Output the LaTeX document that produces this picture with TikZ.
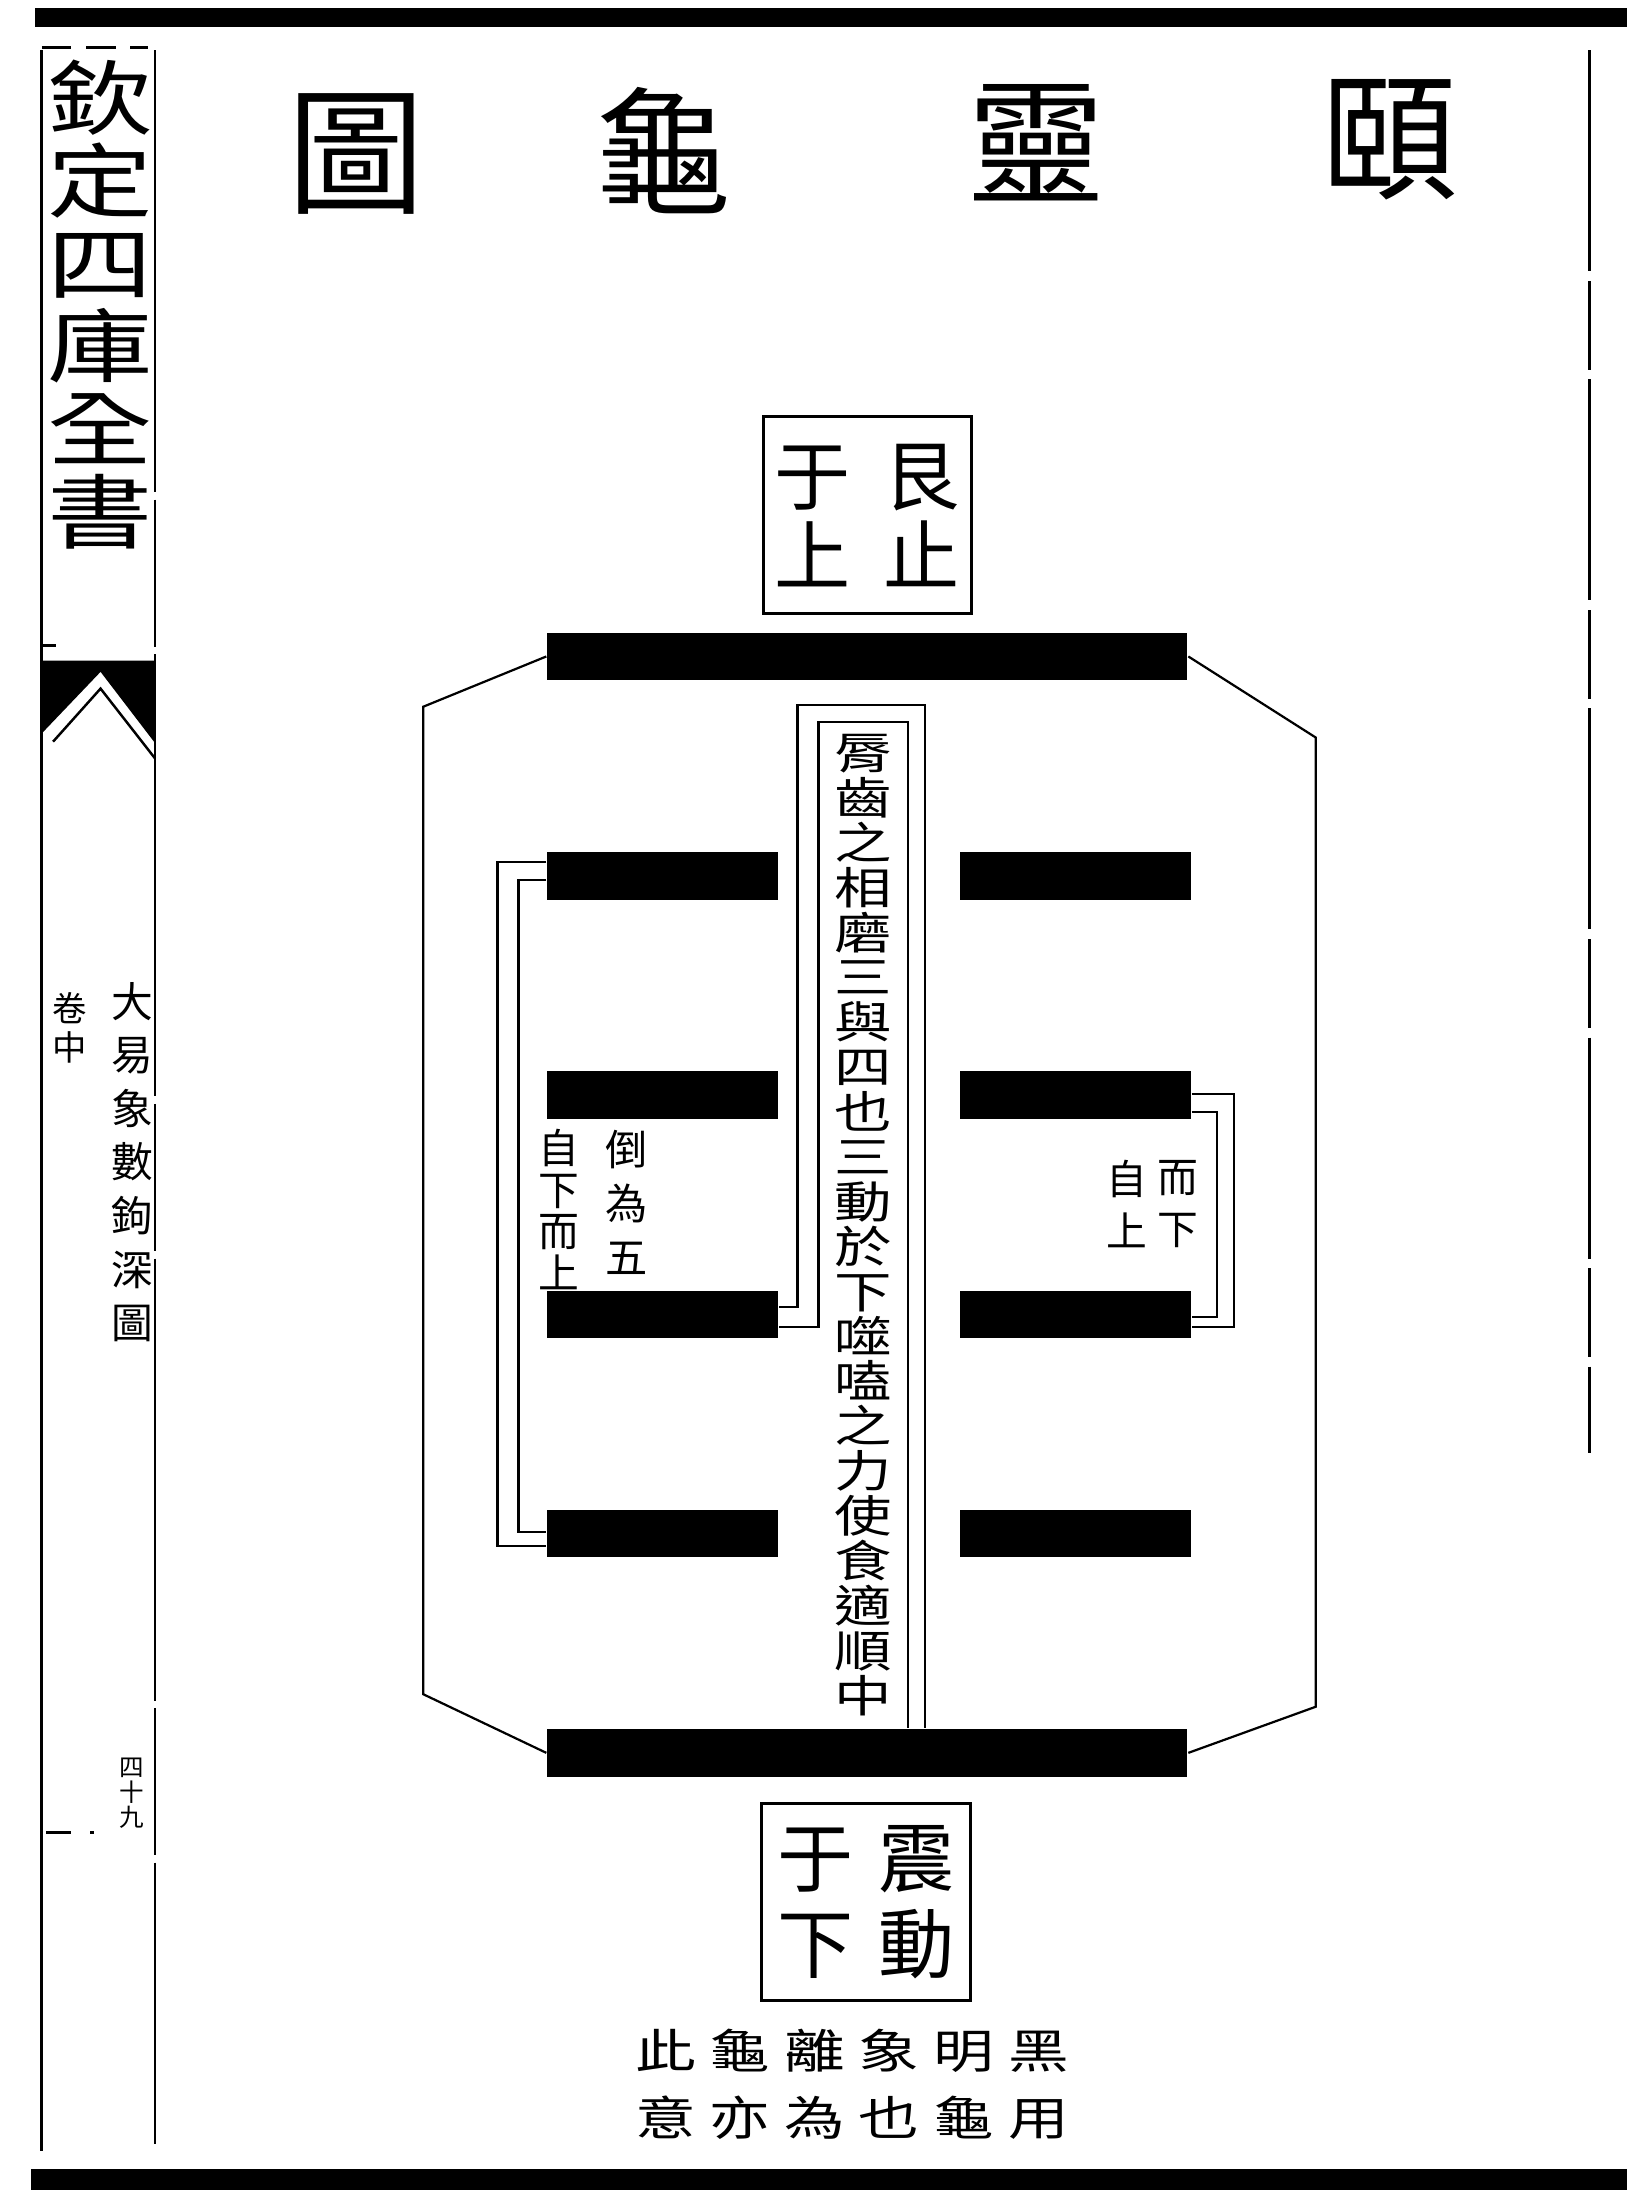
\documentclass[tikz,border=0pt]{standalone}
\usepackage{fontspec}
\newfontfamily\cjk{Noto Sans CJK TC}
\newfontfamily\cjkw[FakeStretch=1.3]{Noto Sans CJK TC}
\usepackage{tikz}
\usetikzlibrary{calc}
\newcommand{\cgap}{\hspace{0.1cm}}

\begin{document}
\begin{tikzpicture}[x=0.01cm, y=-0.01cm,
  yang/.style={fill=black, inner sep=0pt, minimum width=4.58cm, minimum height=0.34cm},
  yin/.style={fill=black, inner sep=0pt, minimum width=1.65cm, minimum height=0.34cm},
  cell/.style={draw, line width=0.6pt, inner sep=0pt, minimum width=1.49cm, minimum height=1.41cm, align=center},
  txt/.style={inner sep=0pt, align=center},
  ln/.style={line width=0.45pt}]
\fill[white] (0,0) rectangle (1165,1568);
\fill (25,6) rectangle (1165,19);
\fill (22,1553) rectangle (1165,1568);
\draw[line width=0.6pt] (30,36) -- (30,1540);
\draw[line width=0.55pt, dash pattern=on 90pt off 1.5pt on 30pt off 1.5pt] (111,36) -- (111,1535);
\draw[line width=0.5pt, dash pattern=on 45pt off 2pt on 18pt off 2pt] (1138,36) -- (1138,1040);
\draw[line width=0.5pt, dash pattern=on 6pt off 3pt] (30,34) -- (106,34);
\draw[line width=0.5pt] (30,462) -- (40,462);
\draw[line width=0.5pt, dash pattern=on 5pt off 4pt] (33,1312) -- (67,1312);
\fill (30,473) -- (111,473) -- (111,532) -- (72,481) -- (30,525) -- cycle;
\draw[line width=0.5pt] (38,531) -- (72,493) -- (111,543);

\node[txt, font=\cjk\fontsize{28pt}{28pt}\selectfont] (t1) at (995,100) {頤};
\node[txt, font=\cjk\fontsize{28pt}{28pt}\selectfont] (t2) at (742,102) {靈};
\node[txt, font=\cjk\fontsize{28pt}{28pt}\selectfont] (t3) at (475,108) {龜};
\node[txt, font=\cjk\fontsize{28pt}{28pt}\selectfont] (t4) at (255,110) {圖};

\node[txt, font=\cjkw\fontsize{16.5pt}{16.85pt}\selectfont] (marg) at (72,218) {欽\\定\\四\\庫\\全\\書};
\node[txt, font=\cjk\fontsize{7pt}{8pt}\selectfont] (vol) at (50,736) {卷\\中};
\node[txt, font=\cjk\fontsize{8.5pt}{10.9pt}\selectfont] (book) at (95,832) {大\\易\\象\\數\\鉤\\深\\圖};
\node[txt, font=\cjk\fontsize{5pt}{5.1pt}\selectfont] (page) at (94,1284) {四\\十\\九};

\node[cell, font=\cjk\fontsize{15.5pt}{16.2pt}\selectfont] (gen) at (621,369) {于\hspace{0.235cm}艮\\上\hspace{0.235cm}止};
\node[cell, font=\cjk\fontsize{15.5pt}{17.6pt}\selectfont] (zhen) at (620,1362) {于\hspace{0.175cm}震\\下\hspace{0.175cm}動};

\node[yang] (l6) at (621,470) {};
\node[yang] (l1) at (621,1255) {};
\foreach \n/\y in {5/627, 4/784, 3/941, 2/1098} {
  \node[yin] (yl\n) at (474.5,\y) {};
  \node[yin] (yr\n) at (770,\y) {};
}

\draw[ln] (l6.west) -- (303,506) -- (303,1213) -- (l1.west);
\draw[ln] (l6.east) -- (942,528) -- (942,1222) -- (l1.east);

\draw[ln] ([yshift=1mm]yl5.west) -- ++(-35,0) |- ([yshift=-0.9mm]yl2.west);
\draw[ln] ([yshift=-0.3mm]yl5.west) -- ++(-20,0) |- ([yshift=0.1mm]yl2.west);
\draw[ln] ([yshift=0.1mm]yr4.east) -- ++(30,0) |- ([yshift=-0.9mm]yr3.east);
\draw[ln] ([yshift=-1.2mm]yr4.east) -- ++(18,0) |- ([yshift=-0.2mm]yr3.east);

\coordinate (co) at (571,505);
\coordinate (ci) at (586,517);
\coordinate (co2) at (662,505);
\coordinate (ci2) at (650,517);
\draw[ln] ([yshift=0.5mm]yl3.east) -| (co) -- (co2) -- (co2 |- l1.north);
\draw[ln] ([yshift=-0.9mm]yl3.east) -| (ci) -- (ci2) -- (ci2 |- l1.north);

\node[txt, font=\cjkw\fontsize{9pt}{9.14pt}\selectfont] (colt) at (618,877) {脣\\齒\\之\\相\\磨\\三\\與\\四\\也\\三\\動\\於\\下\\噬\\嗑\\之\\力\\使\\食\\適\\順\\中};

\node[txt, font=\cjk\fontsize{8.3pt}{8.5pt}\selectfont] (zxl) at (400,866) {自\\下\\而\\上};
\node[txt, font=\cjk\fontsize{8.6pt}{10.95pt}\selectfont] (dwl) at (449,861) {倒\\為\\五};
\node[txt, font=\cjk\fontsize{8.3pt}{10.5pt}\selectfont] (exr) at (843,862) {而\\下};
\node[txt, font=\cjk\fontsize{8.3pt}{10.5pt}\selectfont] (zsr) at (807,862) {自\\上};

\node[txt, font=\cjkw\fontsize{9.5pt}{13.65pt}\selectfont] (note) at (610,1492) {此\cgap 龜\cgap 離\cgap 象\cgap 明\cgap 黑\\意\cgap 亦\cgap 為\cgap 也\cgap 龜\cgap 用};
\end{tikzpicture}
\end{document}
